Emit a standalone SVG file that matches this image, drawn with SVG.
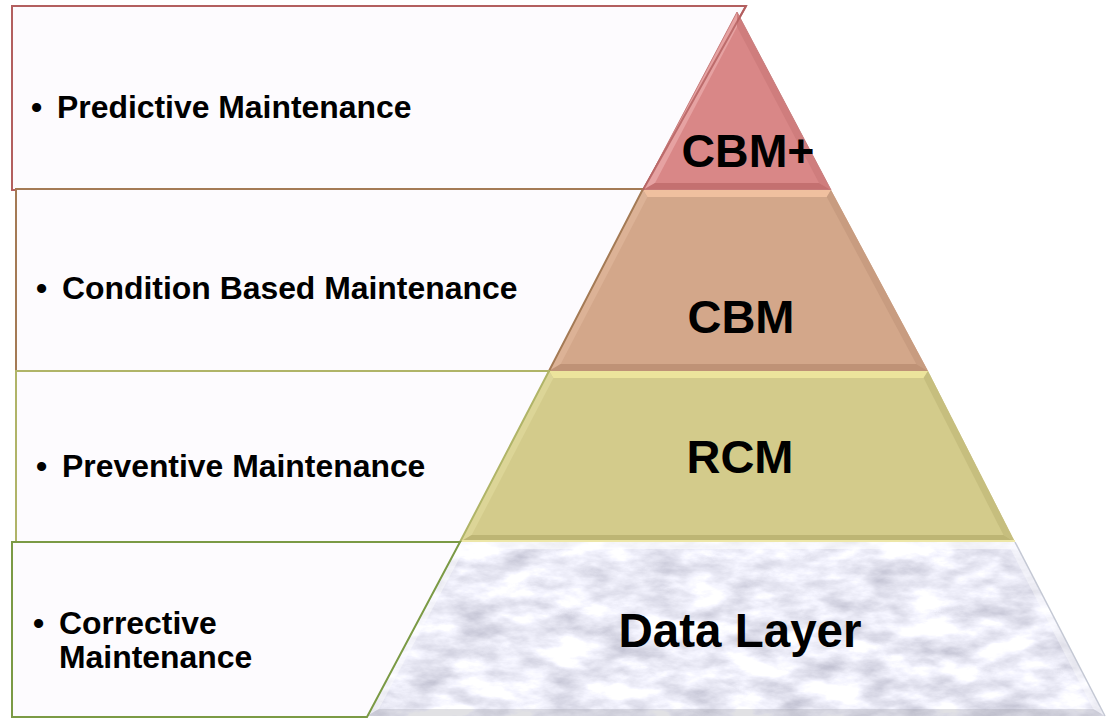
<svg xmlns="http://www.w3.org/2000/svg" width="1109" height="719" viewBox="0 0 1109 719">
<style>
.box{fill:#fdfbfe;stroke-width:2}
.lbl{font-family:"Liberation Sans",Arial,sans-serif;font-weight:bold;font-size:31.9px;fill:#000}
.big{font-family:"Liberation Sans",Arial,sans-serif;font-weight:bold;fill:#000;text-anchor:middle}
</style>
<defs>
<filter id="marble" x="0" y="0" width="100%" height="100%" color-interpolation-filters="sRGB">
<feTurbulence type="fractalNoise" baseFrequency="0.022 0.05" numOctaves="5" seed="7"/>
<feColorMatrix type="matrix" values="-0.45 0 0 0 1.15  -0.45 0 0 0 1.15  -0.4 0 0 0 1.17  0 0 0 0 1"/>
</filter>
<clipPath id="dataClip"><polygon points="460,542 1015,542 1105,716 367,716"/></clipPath>
</defs>
<rect width="1109" height="719" fill="#ffffff"/>

<g id="box-predictive">
<path class="box" d="M12,6 L746,6 L643,190 L12,190 Z" stroke="#b35f5f"/>
</g>

<g id="layer-cbmplus">
<polygon points="737,12 643,190 831,190" fill="#d98787"/>
<polygon points="737,12 643,190 655,183 737,27" fill="#e6a2a2"/>
<polygon points="737,12 831,190 819,183 737,27" fill="#cf7d7d"/>
<polygon points="643,190 831,190 819,183 655,183" fill="#c47070"/>
<polygon points="737,12 643,190 831,190" fill="none" stroke="#c98080" stroke-width="1"/>
<text class="big" x="748" y="167" font-size="46.5">CBM+</text>
</g>

<g id="layer-cbm">
<polygon points="643,190 831,190 928,371 549,371" fill="#d3a78a"/>
<polygon points="643,190 831,190 826.8,197 647.4,197" fill="#f0c09f"/>
<polygon points="643,190 647.4,197 560.7,364 549,371" fill="#dcb296"/>
<polygon points="831,190 928,371 916.3,364 826.8,197" fill="#c89c80"/>
<polygon points="549,371 928,371 916.3,364 560.7,364" fill="#bf9276"/>
<text class="big" x="741" y="333" font-size="47">CBM</text>
</g>

<g id="layer-rcm">
<polygon points="549,371 928,371 1015,542 460,542" fill="#d3cb8b"/>
<polygon points="549,371 928,371 923.6,378 553.4,378" fill="#ece49c"/>
<polygon points="549,371 553.4,378 471.7,535 460,542" fill="#dcd597"/>
<polygon points="928,371 1015,542 1003.5,535 923.6,378" fill="#c6be7e"/>
<polygon points="460,542 1015,542 1003.5,535 471.7,535" fill="#bdb574"/>
<line x1="460" y1="541" x2="1015" y2="541" stroke="#ede7a8" stroke-width="2"/>
<text class="big" x="740" y="473" font-size="47">RCM</text>
</g>

<g id="layer-data">
<g clip-path="url(#dataClip)">
<rect x="360" y="542" width="750" height="177" filter="url(#marble)"/>
</g>
<polygon points="460,542 1015,542 1010.6,549 464.3,549" fill="#ffffff" opacity="0.55"/>
<polygon points="460,542 464.3,549 378.8,709 367,716" fill="#ffffff" opacity="0.45"/>
<polygon points="1015,542 1105,716 1093.3,709 1010.6,549" fill="#ffffff" opacity="0.4"/>
<polygon points="367,716 1105,716 1093.3,709 378.8,709" fill="#9a9aa4" opacity="0.3"/>
<line x1="1015" y1="542" x2="1105" y2="716" stroke="#c4c8d4" stroke-width="1.5"/>
<text class="big" x="740" y="647" font-size="47.5">Data Layer</text>
</g>

<g id="box-condition">
<path class="box" d="M16,189 L643,189 L549,371 L16,371 Z" stroke="#a47a55"/>
</g>
<g id="box-preventive">
<path class="box" d="M16,371 L549,371 L460,542 L16,542 Z" stroke="#b0b468"/>
</g>
<g id="box-corrective">
<path class="box" d="M12,542 L460,542 L367,717 L12,717 Z" stroke="#7b9a45"/>
</g>
<g id="box-predictive-edge">
<line x1="746" y1="6" x2="643" y2="190" stroke="#b35f5f" stroke-width="2" opacity="0.8"/>
</g>

<g id="labels">
<text class="lbl" x="31" y="118">•</text>
<text class="lbl" x="57" y="118">Predictive Maintenance</text>
<text class="lbl" x="36" y="299">•</text>
<text class="lbl" x="62" y="299">Condition Based Maintenance</text>
<text class="lbl" x="36" y="477">•</text>
<text class="lbl" x="62" y="477">Preventive Maintenance</text>
<text class="lbl" x="33" y="634">•</text>
<text class="lbl" x="59" y="634">Corrective</text>
<text class="lbl" x="59" y="668">Maintenance</text>
</g>
</svg>
